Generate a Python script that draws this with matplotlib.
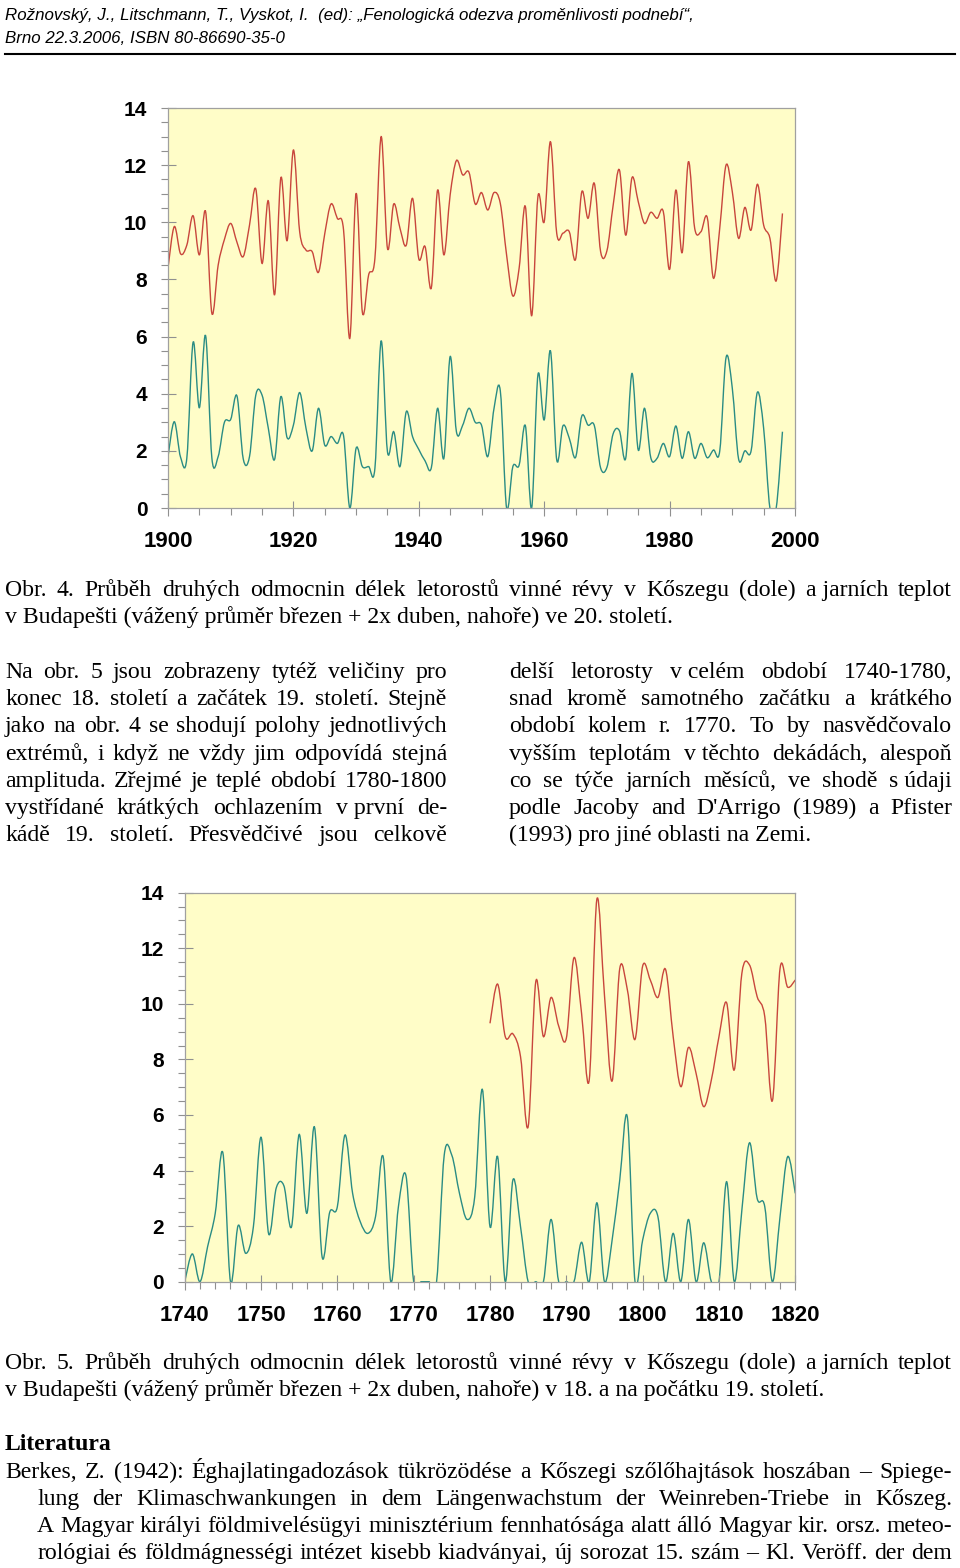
import numpy as np
import matplotlib
matplotlib.use("Agg")
import matplotlib.pyplot as plt
from matplotlib import font_manager
from matplotlib.path import Path
from matplotlib.patches import PathPatch
from matplotlib.lines import Line2D

# values (square roots)
years_20c = list(range(1900, 1999))
temp_20c = [8.4, 9.85, 8.9, 9.2, 10.23, 8.86, 10.37, 6.81, 8.5, 9.4,
            9.96, 9.3, 8.8, 9.9, 11.17, 8.56, 10.75, 7.46, 11.56, 9.36,
            12.53, 9.67, 9.03, 8.97, 8.25, 9.6, 10.64, 10.14, 9.73, 5.94,
            11.01, 6.85, 8.16, 8.74, 13.0, 9.09, 10.64, 9.79, 9.2, 10.84,
            8.72, 9.15, 7.71, 11.13, 8.86, 10.96, 12.16, 11.66, 11.75, 10.64,
            11.04, 10.43, 11.04, 10.66, 8.86, 7.42, 8.39, 10.55, 6.73, 10.9,
            10.02, 12.82, 9.61, 9.62, 9.67, 8.7, 11.07, 10.14, 11.36, 8.97,
            9.0, 10.6, 11.83, 9.55, 11.56, 10.72, 9.96, 10.35, 10.14, 10.37,
            8.35, 11.13, 8.94, 12.12, 9.79, 9.67, 10.17, 8.04, 9.8, 12.0,
            11.07, 9.44, 10.52, 9.73, 11.33, 9.9, 9.44, 7.95, 10.31]
shoots_20c = [1.8, 3.02, 1.78, 1.74, 5.8, 3.51, 6.03, 1.74, 1.8, 3.0,
              3.1, 3.92, 1.72, 1.8, 3.95, 3.95, 2.79, 1.7, 3.9, 2.46,
              2.9, 4.04, 2.8, 2.0, 3.49, 2.2, 2.5, 2.26, 2.53, 0.0,
              2.09, 1.45, 1.45, 1.39, 5.85, 1.97, 2.67, 1.45, 3.37, 2.5,
              2.05, 1.65, 1.41, 3.49, 1.74, 5.3, 2.67, 2.9, 3.49, 3.0,
              2.9, 1.8, 3.49, 4.1, 0.0, 1.45, 1.5, 2.88, 0.0, 4.66,
              3.08, 5.5, 1.68, 2.88, 2.44, 1.77, 3.22, 2.9, 2.88, 1.4,
              1.42, 2.6, 2.7, 1.74, 4.71, 2.03, 3.49, 1.76, 1.74, 2.26,
              1.8, 2.87, 1.74, 2.67, 1.74, 2.26, 1.76, 2.03, 2.0, 5.26,
              4.19, 1.72, 2.0, 2.0, 4.05, 2.79, 0.0, 0.0, 2.67]

years_18c = list(range(1740, 1821))
shoots_18c = [0, 1.0, 0, 1.26, 2.46, 4.64, 0, 2.02, 1.02, 1.98,
              5.2, 1.72, 3.38, 3.45, 1.98, 5.3, 2.46, 5.57, 0.9, 2.5,
              2.7, 5.28, 3.18, 2.16, 1.74, 2.34, 4.5, 0, 2.7, 3.8,
              0, 0, 0, 0, 4.55, 4.55, 3.18, 2.24, 3.06, 6.92,
              1.98, 4.5, 0, 3.66, 1.98, 0, 0, 0, 2.24, 0,
              0, 0, 1.42, 0, 2.84, 0, 1.5, 3.66, 5.91, 0,
              1.5, 2.46, 2.34, 0, 1.74, 0, 2.24, 0, 1.4, 0,
              0, 3.6, 0, 2.58, 5.0, 3.0, 2.7, 0, 2.34, 4.5,
              3.18]
years_temp_18c = list(range(1780, 1821))
temp_18c = [9.3, 10.71, 8.82, 8.92, 8.1, 5.58, 10.8, 8.82, 10.23, 9.2,
            8.76, 11.66, 9.65, 7.26, 13.76, 10.3, 7.22, 11.27, 10.5, 8.72,
            11.36, 10.86, 10.23, 11.24, 8.82, 7.02, 8.43, 7.5, 6.3, 7.26,
            8.82, 10.04, 7.62, 11.1, 11.4, 10.26, 9.54, 6.51, 11.27, 10.6,
            10.86]

xticks_20c = [1900, 1920, 1940, 1960, 1980, 2000]
xticks_18c = [1740, 1750, 1760, 1770, 1780, 1790, 1800, 1810, 1820]
yticks = [0, 2, 4, 6, 8, 10, 12, 14]

W, H = 960, 1568
RED = "#c8463c"
TEAL = "#2a8c84"
BG = "#fffdc8"
FRAME = "#a0a0a0"


def fx(px):
    return px / W


def fy(py):
    return 1 - py / H


def smooth(x, y):
    # excel-like smoothed line: bezier segments through the points
    x = np.asarray(x, float)
    y = np.asarray(y, float)
    n = len(x)
    verts = [(x[0], y[0])]
    codes = [Path.MOVETO]
    for i in range(n - 1):
        a = max(i - 1, 0)
        b = min(i + 2, n - 1)
        verts.append((x[i] + (x[i + 1] - x[a]) / 6, y[i] + (y[i + 1] - y[a]) / 6))
        verts.append((x[i + 1] - (x[b] - x[i]) / 6, y[i + 1] - (y[b] - y[i]) / 6))
        verts.append((x[i + 1], y[i + 1]))
        codes += [Path.CURVE4] * 3
    return Path(verts, codes)


fig = plt.figure(figsize=(W / 100, H / 100), dpi=100)
fig.patch.set_facecolor("white")


def chart(left, top, right, bottom, xlim, xticks, xstep, series):
    ax = fig.add_axes([fx(left), fy(bottom), (right - left) / W, (bottom - top) / H])
    ax.set_facecolor(BG)
    for xs, ys, col in series:
        ax.add_patch(PathPatch(smooth(xs, ys), fill=False, edgecolor=col, lw=1.0))
    ax.set_xlim(*xlim)
    ax.set_ylim(0, 14)
    ax.set_xticks(xticks)
    ax.set_xticklabels([str(t) for t in xticks], fontweight="bold",
                       family="Liberation Sans", fontsize=16)
    ax.set_xticks(np.arange(xlim[0], xlim[1] + 1, xstep), minor=True)
    ax.set_yticks(yticks)
    ax.set_yticklabels([str(t) for t in yticks], fontweight="bold",
                       family="Liberation Sans", fontsize=15)
    ax.set_yticks(np.arange(0, 14.01, 0.5), minor=True)
    ax.tick_params(which="major", direction="inout", length=10.8, width=0.8, color="#909090")
    ax.tick_params(which="minor", direction="out", length=5, width=0.8, color="#909090")
    ax.tick_params(axis="y", which="major", pad=9.5)
    ax.tick_params(axis="x", which="major", pad=11.5)
    for s in ax.spines.values():
        s.set_color(FRAME)
        s.set_linewidth(0.9)
    return ax


chart(168, 108, 795, 508, (1900, 2000), xticks_20c, 5,
      [(years_20c, temp_20c, RED), (years_20c, shoots_20c, TEAL)])
chart(184.7, 892.7, 795.3, 1281.7, (1740, 1820), xticks_18c, 2,
      [(years_temp_18c, temp_18c, RED), (years_18c, shoots_18c, TEAL)])

# ---- page text ----
try:
    font_manager.findfont("Liberation Sans Narrow", fallback_to_default=False)
    head_family, head_size = "Liberation Sans Narrow", 14.5
except ValueError:
    head_family, head_size = "Liberation Sans", 12.2

fig.text(fx(5), fy(20), "Rožnovský, J., Litschmann, T., Vyskot, I.  (ed): „Fenologická odezva proměnlivosti podnebí“,",
         family=head_family, style="italic", fontsize=head_size, va="baseline")
fig.text(fx(5), fy(43), "Brno 22.3.2006, ISBN 80-86690-35-0",
         family=head_family, style="italic", fontsize=head_size, va="baseline")
fig.add_artist(Line2D([fx(5), fx(955)], [fy(54), fy(54)], color="black", lw=1.5))

SERIF = "Liberation Serif"
BODY = 17.1
renderer = fig.canvas.get_renderer()


def line(s, x0, x1, y, justify=True, **kw):
    kw.setdefault("family", SERIF)
    kw.setdefault("fontsize", BODY)
    if not justify:
        fig.text(fx(x0), fy(y), s, va="baseline", ha="left", **kw)
        return
    words = s.split(" ")
    arts = [fig.text(fx(x0), fy(y), w, va="baseline", ha="left", **kw) for w in words]
    widths = [a.get_window_extent(renderer).width for a in arts]
    gap = (x1 - x0 - sum(widths)) / (len(words) - 1)
    x = x0
    for a, w in zip(arts, widths):
        a.set_x(fx(x))
        x += w + gap


NB = "\u00a0"
cap1 = ["Obr. 4. Průběh druhých odmocnin délek letorostů vinné révy v Kőszegu (dole) a" + NB + "jarních teplot",
        "v Budapešti (vážený průměr březen + 2x duben, nahoře) ve 20. století."]
cap2 = ["Obr. 5. Průběh druhých odmocnin délek letorostů vinné révy v Kőszegu (dole) a" + NB + "jarních teplot",
        "v Budapešti (vážený průměr březen + 2x duben, nahoře) v 18. a na počátku 19. století."]
col_left = ["Na obr. 5 jsou zobrazeny tytéž veličiny pro",
            "konec 18. století a začátek 19. století. Stejně",
            "jako na obr. 4 se shodují polohy jednotlivých",
            "extrémů, i když ne vždy jim odpovídá stejná",
            "amplituda. Zřejmé je teplé období 1780-1800",
            "vystřídané krátkých ochlazením v" + NB + "první de-",
            "kádě 19. století. Přesvědčivé jsou celkově"]
col_right = ["delší letorosty v" + NB + "celém období 1740-1780,",
             "snad kromě samotného začátku a krátkého",
             "období kolem r. 1770. To by nasvědčovalo",
             "vyšším teplotám v" + NB + "těchto dekádách, alespoň",
             "co se týče jarních měsíců, ve shodě s" + NB + "údaji",
             "podle Jacoby and D'Arrigo (1989) a Pfister",
             "(1993) pro jiné oblasti na Zemi."]
refs = ["Berkes, Z. (1942): Éghajlatingadozások tükrözödése a Kőszegi szőlőhajtások hoszában – Spiege-",
        "lung der Klimaschwankungen in dem Längenwachstum der Weinreben-Triebe in Kőszeg.",
        "A Magyar királyi földmivelésügyi minisztérium fennhatósága alatt álló Magyar kir. orsz. meteo-",
        "rológiai és földmágnességi intézet kisebb kiadványai, új sorozat 15. szám – Kl. Veröff. der dem"]

line(cap1[0], 5, 952, 596)
line(cap1[1], 5, 952, 623, justify=False)

for i, s in enumerate(col_left):
    line(s, 5, 447, 678 + 27.2 * i)
for i, s in enumerate(col_right):
    line(s, 509, 952, 678 + 27.2 * i, justify=(i < len(col_right) - 1))

line(cap2[0], 5, 952, 1369)
line(cap2[1], 5, 952, 1396, justify=False)

fig.text(fx(5), fy(1450), "Literatura", family=SERIF, fontsize=BODY, fontweight="bold", va="baseline")
for i, s in enumerate(refs):
    line(s, 5 if i == 0 else 37, 952, 1478 + 27 * i)

fig.savefig("out.png", dpi=100, facecolor="white")
